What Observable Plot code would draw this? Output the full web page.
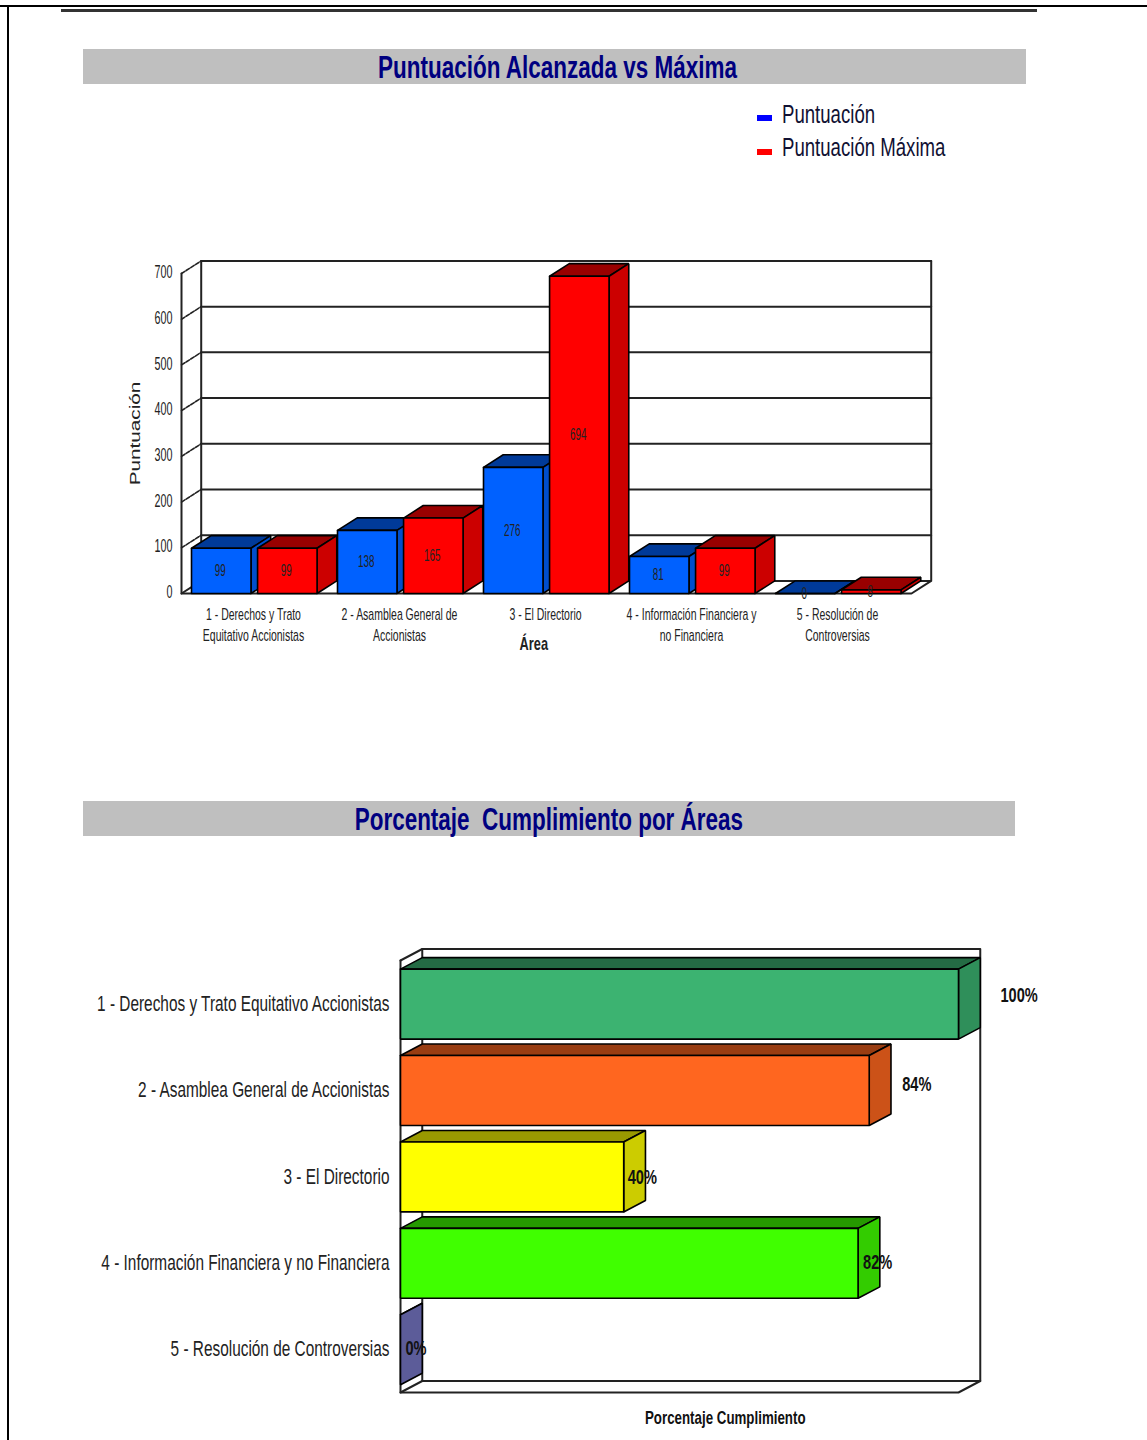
<!DOCTYPE html>
<html lang="es">
<head>
<meta charset="utf-8">
<title>Puntuación y cumplimiento por áreas</title>
<script src="https://cdn.jsdelivr.net/npm/d3@7"></script>
<script src="https://cdn.jsdelivr.net/npm/@observablehq/plot@0.6"></script>
<style>
  html, body { margin: 0; padding: 0; background: #fff; }
  #page { position: relative; width: 1147px; height: 1440px; overflow: hidden; font-family: "Liberation Sans", sans-serif; }
  .rule { position: absolute; background: #000; }
  .band { position: absolute; left: 83px; background: #bfbfbf; color: #000080; text-align: center; font-weight: bold; font-size: 31px; height: 35px; line-height: 38px; white-space: nowrap; }
  .band span { display: inline-block; transform: scaleX(0.725); transform-origin: center; }
  .key { position: absolute; left: 757px; width: 15px; height: 6px; }
  .keytext { position: absolute; left: 782px; font-size: 25px; line-height: 28px; color: #111133; white-space: nowrap; transform: scaleX(0.744); transform-origin: left; }
  .chart { position: absolute; left: 0; }
  .chart svg { display: block; background: transparent; }
</style>
</head>
<body>
<div id="page">
  <div class="rule" style="left:0;top:5px;width:1147px;height:2px"></div>
  <div class="rule" style="left:7px;top:5px;width:2px;height:1435px"></div>
  <div class="rule" style="left:61px;top:9px;width:976px;height:3px;background:#333"></div>

  <div class="band" style="top:49px;width:943px"><span style="margin-left:7px">Puntuación Alcanzada vs Máxima</span></div>
  <div class="key" style="top:115px;background:#0000ff"></div>
  <div class="keytext" style="top:100px">Puntuación</div>
  <div class="key" style="top:149px;background:#ff0000"></div>
  <div class="keytext" style="top:133px">Puntuación Máxima</div>
  <div class="chart" id="scores" style="top:240px"></div>

  <div class="band" style="top:801px;width:932px"><span>Porcentaje&nbsp; Cumplimiento por Áreas</span></div>
  <div class="chart" id="compliance" style="top:930px"></div>
</div>
<script>
const font = '"Liberation Sans", sans-serif';

// Values shown in the two charts
const areaLabels = [
  "1 - Derechos y Trato\nEquitativo Accionistas",
  "2 - Asamblea General de\nAccionistas",
  "3 - El Directorio",
  "4 - Información Financiera y\nno Financiera",
  "5 - Resolución de\nControversias"
];
const areaNames = [
  "1 - Derechos y Trato Equitativo Accionistas",
  "2 - Asamblea General de Accionistas",
  "3 - El Directorio",
  "4 - Información Financiera y no Financiera",
  "5 - Resolución de Controversias"
];
const puntuacion = [99, 138, 276, 81, 0];
const puntuacionMaxima = [99, 165, 694, 99, 8];
const cumplimiento = [100, 84, 40, 82, 0];
const yTicks = [0, 100, 200, 300, 400, 500, 600, 700];

// Face colours: front, top, side
const blueFaces = ["#0061ff", "#003a99", "#004ecc"];
const redFaces = ["#ff0000", "#990000", "#cc0000"];
const areaFaces = [
  ["#3cb371", "#246b44", "#2f8f5a"],
  ["#ff661f", "#993d12", "#cc5218"],
  ["#ffff00", "#999900", "#cccc00"],
  ["#40ff00", "#269900", "#33cc00"],
  ["#666699", "#3d3d5c", "#5c5c99"]
];

// Each polygon becomes a closed, filled run of points for Plot.line
function polygons(list) {
  const rows = [];
  list.forEach((p, id) => {
    [...p.points, p.points[0]].forEach(([x, y]) => rows.push({id, x, y, fill: p.fill}));
  });
  return rows;
}
const outline = (rows) =>
  Plot.line(rows, {x: "x", y: "y", z: "id", fill: "fill", stroke: "#000", strokeWidth: 1.6, curve: "linear", strokeLinejoin: "miter"});

// The charts use a condensed letterform: each text is squeezed along its baseline,
// with the factor chosen by the font size of its mark.
function condense(svg, factors) {
  for (const t of svg.querySelectorAll("text")) {
    const holder = t.closest("[font-size]");
    const k = holder && factors[parseFloat(holder.getAttribute("font-size"))];
    if (!k) continue;
    t.setAttribute("transform", `${t.getAttribute("transform") || ""} scale(${k},1)`);
  }
  return svg;
}

/* ---- Puntuación alcanzada vs máxima: 3D columns ---- */
{
  const dx = 0.135, dy = 27.5;          // extrusion depth in scale units
  const barWidth = 0.4075;
  const seriesStart = [0.0685, 0.521];
  const bars = [];
  [puntuacion, puntuacionMaxima].forEach((vals, s) => {
    vals.forEach((v, i) => {
      bars.push({x1: i + seriesStart[s], x2: i + seriesStart[s] + barWidth, v, faces: s ? redFaces : blueFaces});
    });
  });
  bars.sort((a, b) => a.x1 - b.x1);
  const faces = [];
  for (const b of bars) {
    faces.push({fill: b.faces[1], points: [[b.x1, b.v], [b.x2, b.v], [b.x2 + dx, b.v + dy], [b.x1 + dx, b.v + dy]]});
    faces.push({fill: b.faces[2], points: [[b.x2, 0], [b.x2 + dx, dy], [b.x2 + dx, b.v + dy], [b.x2, b.v]]});
    faces.push({fill: b.faces[0], points: [[b.x1, 0], [b.x2, 0], [b.x2, b.v], [b.x1, b.v]]});
  }
  const labels = bars.map(b => ({x: (b.x1 + b.x2) / 2, y: b.v / 2, v: b.v}));
  const walls = [
    {points: [[0, 700], [0, 0], [5, 0], [5 + dx, dy], [5 + dx, 700 + dy], [dx, 700 + dy], [dx, dy], [5 + dx, dy]]},
    {points: [[0, 0], [dx, dy]]}
  ];
  const wallRows = walls.flatMap((w, id) => w.points.map(([x, y]) => ({id, x, y})));
  const gridRows = yTicks.slice(1).flatMap(t => [{id: t, x: dx, y: t + dy}, {id: t, x: 5 + dx, y: t + dy}]);
  const stubRows = yTicks.slice(1).flatMap(t => [{id: t, x: 0, y: t}, {id: t, x: dx, y: t + dy}]);

  const chart = Plot.plot({
    width: 1147, height: 430,
    marginLeft: 181, marginRight: 236, marginTop: 33, marginBottom: 77,
    style: {fontFamily: font, background: "transparent"},
    x: {domain: [0, 5]},
    y: {domain: [0, 700]},
    marks: [
      Plot.line(wallRows, {x: "x", y: "y", z: "id", stroke: "#222", strokeWidth: 2}),
      Plot.line(gridRows, {x: "x", y: "y", z: "id", stroke: "#222", strokeWidth: 2}),
      Plot.line(stubRows, {x: "x", y: "y", z: "id", stroke: "#222", strokeWidth: 1.6, strokeDasharray: "4 1.5"}),
      outline(polygons(faces)),
      Plot.text(labels, {x: "x", y: "y", dx: -1, text: d => String(d.v), fontSize: 17, fill: "#222"}),
      Plot.axisY({ticks: yTicks, tickSize: 0, tickPadding: 9, dy: -1, label: null, fontSize: 17.5, fontFamily: font, fill: "#222"}),
      Plot.axisY({ticks: [], tickSize: 0, dy: 4, label: "Puntuación", labelAnchor: "center", labelArrow: "none", labelOffset: 52, fontSize: 14.5, fontFamily: font, fill: "#222"}),
      Plot.axisX({ticks: d3.range(5).map(i => i + 0.5), tickFormat: t => areaLabels[t - 0.5], tickSize: 0, tickPadding: 12, dx: -1, label: null, fontSize: 16, lineHeight: 1.3, fontFamily: font, fill: "#222", textOverflow: null}),
      Plot.text(["Área"], {x: 2.413, y: 0, dy: 51, text: d => d, fontSize: 18, fontWeight: "bold", fontFamily: font, fill: "#222"})
    ]
  });
  condense(chart, {17: 0.58, 17.5: 0.615, 14.5: 1.43, 16: 0.655, 18: 0.71});
  document.getElementById("scores").append(chart);
}

/* ---- Porcentaje de cumplimiento: 3D horizontal bars ---- */
{
  const dx = 3.9, dy = 0.133;           // extrusion depth in scale units
  const inset = 0.1;
  const faces = [];
  cumplimiento.forEach((v, i) => {
    const y1 = i + inset, y2 = i + 1 - inset + 0.01;
    const c = areaFaces[i];
    faces.push({fill: c[1], points: [[0, y1], [v, y1], [v + dx, y1 - dy], [dx, y1 - dy]]});
    faces.push({fill: c[2], points: [[v, y1], [v + dx, y1 - dy], [v + dx, y2 - dy], [v, y2]]});
    if (v > 0) faces.push({fill: c[0], points: [[0, y1], [v, y1], [v, y2], [0, y2]]});
  });
  // The label shift per bar keeps each percentage where the chart places it
  const labelShift = [[42, -8], [33, -6], [4, 1], [5, 0], [5, -1]];
  const labels = cumplimiento.map((v, i) => ({x: v, y: i + 0.5, v, dx: labelShift[i][0], dy: labelShift[i][1]}));
  const wall = [
    [[dx, -dy], [100 + dx, -dy], [100 + dx, 5 - dy], [dx, 5 - dy], [dx, -dy]],
    [[0, 0], [dx, -dy]],
    [[0, 0], [0, 5], [100, 5], [100 + dx, 5 - dy]],
    [[0, 5], [dx, 5 - dy]]
  ];
  const wallRows = wall.flatMap((pts, id) => pts.map(([x, y]) => ({id, x, y})));

  const chart = Plot.plot({
    width: 1147, height: 510,
    marginLeft: 400, marginRight: 189, marginTop: 30, marginBottom: 48,
    style: {fontFamily: font, background: "transparent"},
    x: {domain: [0, 100], axis: null},
    y: {domain: [5, 0]},
    marks: [
      Plot.line(wallRows, {x: "x", y: "y", z: "id", stroke: "#222", strokeWidth: 2}),
      outline(polygons(faces)),
      ...labels.map(d => Plot.text([d], {x: "x", y: "y", text: e => e.v + "%", dx: d.dx, dy: d.dy, textAnchor: "start", fontSize: 20, fontWeight: "bold", fill: "#111"})),
      Plot.axisY({ticks: d3.range(5).map(i => i + 0.5), tickFormat: t => areaNames[t - 0.5], tickSize: 0, tickPadding: 11, label: null, fontSize: 22, fontFamily: font, fill: "#222", textOverflow: null, lineWidth: 60}),
      Plot.text(["Porcentaje Cumplimiento"], {x: 58.2, y: 5, dy: 26, text: d => d, fontSize: 18, fontWeight: "bold", fontFamily: font, fill: "#111"})
    ]
  });
  condense(chart, {20: 0.73, 22: 0.70, 18: 0.74});
  document.getElementById("compliance").append(chart);
}
</script>
</body>
</html>
